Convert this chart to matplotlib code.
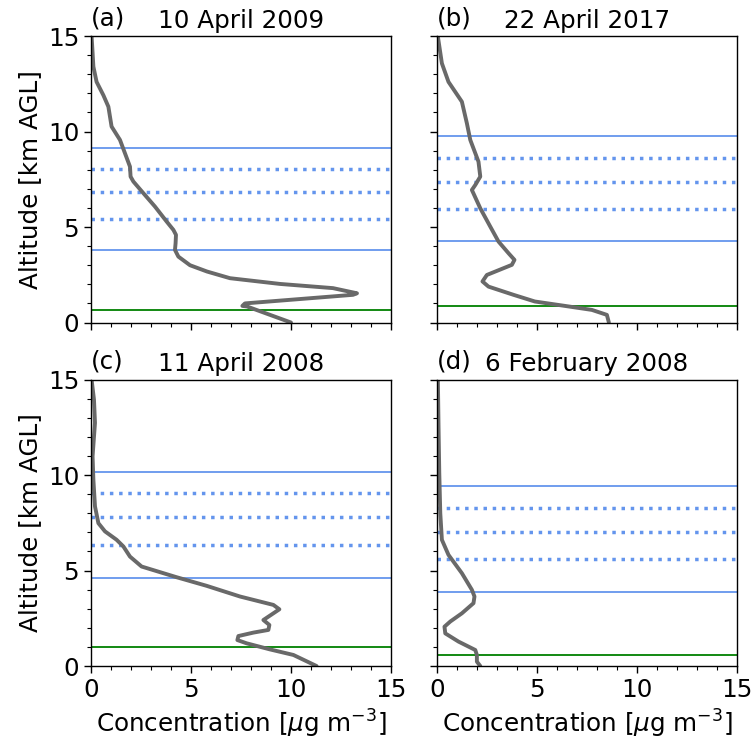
import matplotlib
matplotlib.use("Agg")
import matplotlib.pyplot as plt
from matplotlib.ticker import MultipleLocator

# profiles: concentration (ug m-3) vs altitude (km AGL)
conc_a = [10.0, 7.8, 7.57, 7.7, 13.1, 13.3, 12.1, 9.45, 6.95, 5.8, 4.95, 4.37, 4.2, 4.23,
          4.25, 4.12, 3.78, 3.2, 2.62, 2.12, 1.98, 1.95, 1.7, 1.45, 1.03, 0.87, 0.62, 0.28,
          0.12, 0.07, 0.03]
alt_a = [0.0, 0.84, 0.87, 1.0, 1.45, 1.53, 1.8, 2.02, 2.32, 2.67, 3.0, 3.45, 3.8, 4.15,
         4.59, 4.85, 5.29, 6.07, 6.77, 7.38, 7.64, 8.16, 8.86, 9.56, 10.26, 11.3, 11.9, 12.6,
         13.4, 14.3, 15.0]

conc_b = [8.6, 8.5, 7.75, 6.4, 4.9, 3.83, 2.58, 2.28, 2.5, 3.75, 3.88, 3.58, 3.08, 2.67,
          2.17, 1.75, 1.92, 2.17, 2.08, 1.67, 1.5, 1.25, 0.58, 0.25, 0.05]
alt_b = [0.0, 0.4, 0.66, 0.87, 1.1, 1.45, 1.88, 2.15, 2.49, 3.02, 3.28, 3.63, 4.24, 5.02,
         5.98, 6.94, 7.2, 7.64, 8.42, 9.56, 10.43, 11.56, 12.6, 13.57, 14.97]

conc_c = [11.28, 10.12, 8.95, 7.78, 7.32, 7.37, 8.12, 8.87, 8.92, 8.62, 9.42, 9.12, 7.45,
          5.78, 4.28, 2.53, 1.95, 1.62, 1.28, 0.7, 0.37, 0.2, 0.12, 0.08, 0.2, 0.15, 0.03]
alt_c = [0.0, 0.58, 0.87, 1.19, 1.36, 1.57, 1.75, 1.89, 2.15, 2.41, 2.97, 3.2, 3.64,
         4.2, 4.65, 5.21, 5.73, 6.26, 6.61, 7.05, 7.48, 8.36, 9.76, 10.98, 12.73, 13.95, 15.0]

conc_d = [2.17, 2.0, 2.0, 1.92, 1.08, 0.42, 0.38, 0.67, 1.25, 1.83, 1.88, 1.75, 1.25,
          0.58, 0.25, 0.17, 0.12, 0.08, 0.05]
alt_d = [0.0, 0.23, 0.58, 0.84, 1.28, 1.71, 2.06, 2.33, 2.76, 3.29, 3.64, 3.99, 4.86,
         5.82, 6.61, 8.0, 10.1, 12.7, 15.0]

# layer heights (km AGL): solid = outer bounds, dotted = inner levels, green = ground layer
solid_levels = [[3.80, 9.16], [4.27, 9.77], [4.60, 10.16], [3.90, 9.42]]
dotted_levels = [[5.42, 6.82, 8.04], [5.95, 7.38, 8.63], [6.33, 7.78, 9.04], [5.59, 7.01, 8.29]]
green_levels = [0.645, 0.89, 1.01, 0.58]

titles = ["10 April 2009", "22 April 2017", "11 April 2008", "6 February 2008"]
letters = ["(a)", "(b)", "(c)", "(d)"]
profiles = [(conc_a, alt_a), (conc_b, alt_b), (conc_c, alt_c), (conc_d, alt_d)]

fs = 17.7
fig, axes = plt.subplots(2, 2, figsize=(7.55, 7.44), dpi=100, sharex=True, sharey=True)
fig.subplots_adjust(left=0.1205, right=0.976, bottom=0.1048, top=0.9516,
                    wspace=0.153, hspace=0.199)

for i, ax in enumerate(axes.flat):
    conc, alt = profiles[i]
    for h in solid_levels[i]:
        ax.axhline(h, color="cornflowerblue", lw=1.3)
    for h in dotted_levels[i]:
        ax.axhline(h, color="cornflowerblue", lw=2.5, ls=":")
    ax.axhline(green_levels[i], color="green", lw=1.3)
    ax.plot(conc, alt, color="dimgray", lw=2.8, solid_joinstyle="round",
            solid_capstyle="round")
    ax.set_xlim(0, 15)
    ax.set_ylim(0, 15)
    ax.xaxis.set_major_locator(MultipleLocator(5))
    ax.yaxis.set_major_locator(MultipleLocator(5))
    ax.xaxis.set_minor_locator(MultipleLocator(1))
    ax.yaxis.set_minor_locator(MultipleLocator(1))
    ax.tick_params(which="major", length=5, width=1.0, labelsize=fs)
    ax.tick_params(which="minor", length=3, width=0.8)
    ax.set_title(titles[i], fontsize=fs, pad=6)
    ax.text(0.0, 1.02, letters[i], transform=ax.transAxes, fontsize=fs,
            ha="left", va="bottom")
    for sp in ax.spines.values():
        sp.set_linewidth(1.0)

for ax in axes[:, 0]:
    ax.set_ylabel("Altitude [km AGL]", fontsize=fs)
for ax in axes[1, :]:
    ax.set_xlabel(r"Concentration [$\mu$g m$^{-3}$]", fontsize=fs)

fig.savefig("out.png", dpi=100)
